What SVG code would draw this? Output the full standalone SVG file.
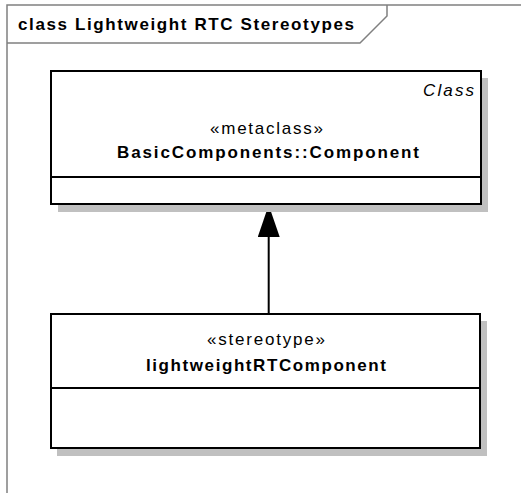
<svg xmlns="http://www.w3.org/2000/svg" width="521" height="493" viewBox="0 0 521 493">
<style>
.frame{fill:none;stroke:#808080;stroke-width:1.5}
.box{fill:#fff;stroke:#000;stroke-width:2}
.shadow{fill:#c0c0c0}
.div{stroke:#000;stroke-width:2}
text{font-family:"Liberation Sans",Arial,sans-serif;font-size:17px;fill:#000}
.b{font-weight:bold}
.i{font-style:italic}
.conn{stroke:#000;stroke-width:2;fill:none}
</style>
<defs>
<marker id="ext" markerUnits="userSpaceOnUse" markerWidth="34" markerHeight="22" refX="32" refY="11" orient="auto" viewBox="0 0 34 22">
<path d="M0,0 L32,11 L0,22 Z" fill="#000"/>
</marker>
</defs>
<rect width="521" height="493" fill="#fff"/>
<g id="frame">
<path class="frame" d="M7,493 V5 H521"/>
<path class="frame" d="M7,43 H360 L387,16 V5"/>
<text class="b" x="18" y="30" textLength="336" lengthAdjust="spacing">class Lightweight RTC Stereotypes</text>
</g>
<g id="connectors">
<line class="conn" x1="268.7" y1="314" x2="268.7" y2="205" marker-end="url(#ext)"/>
</g>
<g id="metaclass">
<rect class="shadow" x="58" y="78" width="430" height="134"/>
<rect class="box" x="51" y="71" width="430" height="133"/>
<line class="div" x1="51" y1="177" x2="481" y2="177"/>
<text class="i" x="474" y="96" text-anchor="end" textLength="51" lengthAdjust="spacing">Class</text>
<text x="266.5" y="134" text-anchor="middle" textLength="113" lengthAdjust="spacing">«metaclass»</text>
<text class="b" x="268" y="158" text-anchor="middle" textLength="302" lengthAdjust="spacing">BasicComponents::Component</text>
</g>
<g id="stereotype">
<rect class="shadow" x="57" y="321" width="430" height="135"/>
<rect class="box" x="51" y="314" width="429" height="134"/>
<line class="div" x1="51" y1="388" x2="480" y2="388"/>
<text x="266" y="345" text-anchor="middle" textLength="118" lengthAdjust="spacing">«stereotype»</text>
<text class="b" x="266" y="371" text-anchor="middle" textLength="240" lengthAdjust="spacing">lightweightRTComponent</text>
</g>
</svg>
